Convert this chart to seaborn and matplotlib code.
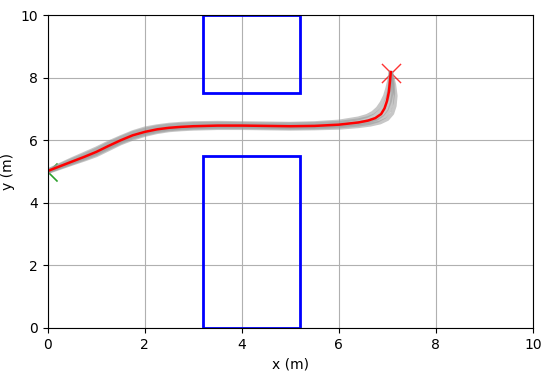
import matplotlib
matplotlib.use("Agg")
import matplotlib.pyplot as plt
from matplotlib.patches import Rectangle
import seaborn as sns
import pandas as pd

# common x stations along the corridor, then each path has its own turn-up section
x_base = [0, 0.5, 0.75, 1.0, 1.25, 1.5, 1.75, 2.0, 2.25, 2.5, 2.75, 3.0, 3.5, 4.0, 4.5, 5.0, 5.5, 6.0]

# planned path (red)
y_path = [5.02, 5.32, 5.47, 5.63, 5.82, 6.0, 6.16, 6.27, 6.35, 6.4, 6.43, 6.45, 6.47, 6.47, 6.46, 6.45, 6.46, 6.5]
x_path_turn = [6.4, 6.6, 6.75, 6.87, 6.94, 6.99, 7.03, 7.05, 7.07]
y_path_turn = [6.57, 6.63, 6.71, 6.84, 7.02, 7.25, 7.55, 7.85, 8.18]

# sampled trajectories (gray)
y_g1 = [5.03, 5.37, 5.53, 5.7, 5.89, 6.07, 6.23, 6.34, 6.42, 6.47, 6.5, 6.52, 6.53, 6.52, 6.51, 6.51, 6.52, 6.56]
x_g1_turn = [6.4, 6.6, 6.74, 6.86, 6.94, 7.0, 7.04, 7.06, 7.07]
y_g1_turn = [6.64, 6.71, 6.8, 6.95, 7.13, 7.35, 7.62, 7.9, 8.15]
y_g2 = [5.0, 5.27, 5.41, 5.56, 5.75, 5.93, 6.09, 6.2, 6.29, 6.35, 6.38, 6.4, 6.42, 6.42, 6.41, 6.4, 6.41, 6.44]
x_g2_turn = [6.4, 6.62, 6.8, 6.95, 7.04, 7.09, 7.12, 7.11, 7.08]
y_g2_turn = [6.5, 6.55, 6.63, 6.76, 6.95, 7.2, 7.5, 7.82, 8.12]
y_g3 = [5.04, 5.4, 5.57, 5.74, 5.93, 6.1, 6.26, 6.38, 6.45, 6.5, 6.53, 6.55, 6.56, 6.55, 6.54, 6.53, 6.55, 6.6]
x_g3_turn = [6.4, 6.58, 6.7, 6.8, 6.88, 6.95, 7.0, 7.04, 7.06]
y_g3_turn = [6.7, 6.78, 6.88, 7.02, 7.2, 7.42, 7.68, 7.95, 8.17]
y_g4 = [4.98, 5.25, 5.38, 5.52, 5.71, 5.9, 6.05, 6.17, 6.26, 6.32, 6.35, 6.37, 6.39, 6.39, 6.38, 6.37, 6.38, 6.4]
x_g4_turn = [6.4, 6.65, 6.85, 7.0, 7.1, 7.15, 7.17, 7.14, 7.09]
y_g4_turn = [6.45, 6.5, 6.57, 6.68, 6.86, 7.1, 7.42, 7.78, 8.1]
y_g5 = [5.0, 5.3, 5.45, 5.6, 5.79, 5.97, 6.13, 6.25, 6.33, 6.38, 6.41, 6.43, 6.45, 6.45, 6.44, 6.43, 6.44, 6.48]
x_g5_turn = [6.4, 6.62, 6.78, 6.9, 6.99, 7.05, 7.09, 7.09, 7.07]
y_g5_turn = [6.55, 6.61, 6.69, 6.82, 7.0, 7.24, 7.54, 7.85, 8.15]

# start / goal
start = (0.0, 5.0)
goal = (7.08, 8.15)

# obstacles: (x0, y0, width, height)
obstacles = [(3.2, 0.0, 2.0, 5.5), (3.2, 7.5, 2.0, 2.5)]

samples = [(y_g1, x_g1_turn, y_g1_turn), (y_g2, x_g2_turn, y_g2_turn), (y_g3, x_g3_turn, y_g3_turn),
           (y_g4, x_g4_turn, y_g4_turn), (y_g5, x_g5_turn, y_g5_turn)]
gray = pd.concat([
    pd.DataFrame({"x": x_base + xt, "y": ys + yt, "run": i})
    for i, (ys, xt, yt) in enumerate(samples)
])

fig, ax = plt.subplots(figsize=(5.5, 3.8), dpi=100)
fig.subplots_adjust(left=0.087, right=0.969, bottom=0.137, top=0.96)

sns.lineplot(data=gray, x="x", y="y", units="run", estimator=None, sort=False,
             color="0.6", alpha=0.55, lw=2.8, ax=ax)
sns.lineplot(x=x_base + x_path_turn, y=y_path + y_path_turn, sort=False, color="red", lw=1.8, ax=ax)

for (x0, y0, w, h) in obstacles:
    ax.add_patch(Rectangle((x0, y0), w, h, fill=False, edgecolor="blue", lw=2))

sns.scatterplot(x=[start[0]], y=[start[1]], marker="x", s=170, color="#2ca02c", linewidth=1.2, ax=ax)
sns.scatterplot(x=[goal[0]], y=[goal[1]], marker="x", s=190, color="red", linewidth=1.0, alpha=0.8, ax=ax)

ax.set_xlim(0, 10)
ax.set_ylim(0, 10)
ax.grid(True, color="#b0b0b0", lw=0.8)
ax.set_axisbelow(True)
ax.set_xlabel("x (m)")
ax.set_ylabel("y (m)")

plt.savefig("out.png")
